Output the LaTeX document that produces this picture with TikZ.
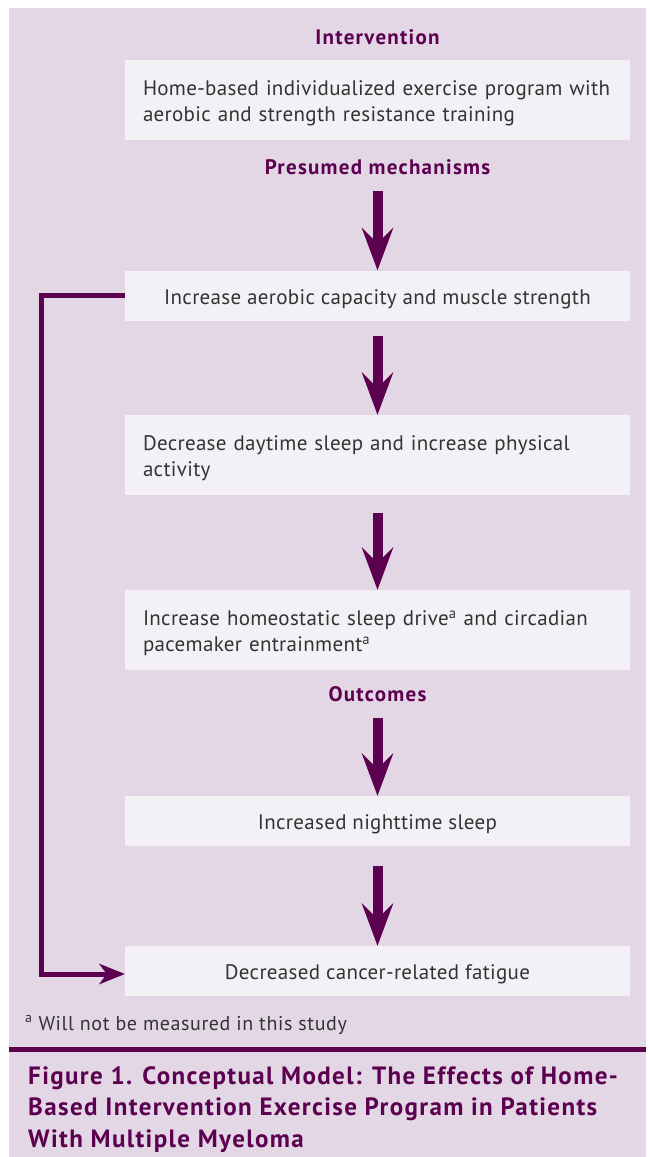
\documentclass[tikz,border=0pt]{standalone}
\usepackage{fontspec}
\setmainfont{PT Sans}
\usetikzlibrary{arrows.meta}
\definecolor{bgc}{HTML}{E3D7E5}
\definecolor{boxc}{HTML}{F3F1F5}
\definecolor{purp}{HTML}{5C0050}
\definecolor{txt}{HTML}{333333}
\newcommand\firststrut{\rule{0pt}{22pt}}
\newcommand\laststrut{\rule[-4.5pt]{0pt}{4.5pt}}
\begin{document}
\begin{tikzpicture}[x=1pt,y=-1pt,
  box/.style={fill=boxc, draw=none, minimum width=505pt, inner sep=0pt, text=txt,
    font=\fontsize{21}{26}\selectfont\addfontfeature{LetterSpace=1.5}},
  lbox/.style={box, text width=469pt, inner xsep=18pt, align=left, minimum height=80pt},
  cbox/.style={box, minimum height=50pt, align=center, text height=20pt, text depth=3pt},
  head/.style={font=\bfseries\fontsize{21}{24}\selectfont\addfontfeature{LetterSpace=6},
    text=purp, inner sep=0pt, anchor=base},
  bigarrow/.style={line width=10pt, draw=purp,
    -{Stealth[length=43pt,width=32pt,inset=16pt,line width=0pt]}},
  fbline/.style={line width=5pt, draw=purp,
    -{Stealth[length=26pt,width=21pt,inset=8pt,line width=0pt]}},
  caption/.style={font=\bfseries\fontsize{25}{31.5}\selectfont\addfontfeature{LetterSpace=5.5},
    text=purp, inner sep=0pt, align=left, anchor=base west}
]
\useasboundingbox (0,0) rectangle (650,1157);
\fill[white] (0,0) rectangle (650,1157);
\fill[bgc] (9,8) rectangle (646,1157);

\node[head] (hint) at (377.5,44) {Intervention};
\node[lbox] (b1) at (377.5,100) {\firststrut Home-based individualized exercise program with\\aerobic and strength resistance training\laststrut};
\node[head] (hpm) at (377.5,174) {Presumed mechanisms};
\node[cbox] (b2) at (377.5,295.5) {Increase aerobic capacity and muscle strength};
\node[lbox] (b3) at (377.5,455) {\firststrut Decrease daytime sleep and increase physical\\activity\laststrut};
\node[lbox] (b4) at (377.5,630) {\firststrut Increase homeostatic sleep drive\textsuperscript{a} and circadian\\pacemaker entrainment\textsuperscript{a}\laststrut};
\node[head] (hout) at (377.5,701) {Outcomes};
\node[cbox] (b5) at (377.5,821) {Increased nighttime sleep};
\node[cbox] (b6) at (377.5,971) {Decreased cancer-related fatigue};

\draw[bigarrow, shorten <=17pt] (hpm.south) -- (b2.north);
\draw[bigarrow, shorten <=15pt] (b2.south) -- (b3.north);
\draw[bigarrow, shorten <=18pt] (b3.south) -- (b4.north);
\draw[bigarrow, shorten <=16pt] (hout.south) -- (b5.north);
\draw[bigarrow, shorten <=20pt] (b5.south) -- (b6.north);

\draw[fbline] (b2.west) -- ++(-83,0) |- ([yshift=-3pt]b6.west);

\node[anchor=base west, inner sep=0pt, text=txt,
  font=\fontsize{20}{22}\selectfont\addfontfeature{LetterSpace=3}] (fn) at (25,1030)
  {\textsuperscript{a} Will not be measured in this study};

\fill[purp] (9,1047) rectangle (646,1052);

\node[caption] (cap) at (28,1147) {Figure 1. Conceptual Model: The Effects of Home-\\Based Intervention Exercise Program in Patients\\With Multiple Myeloma};
\end{tikzpicture}
\end{document}
